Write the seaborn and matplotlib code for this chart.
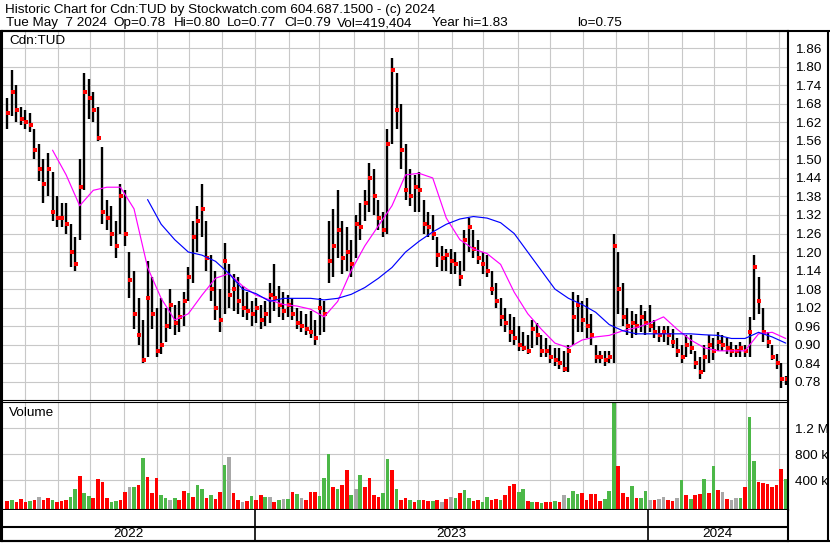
import numpy as np
import pandas as pd
import matplotlib
matplotlib.use("Agg")
import matplotlib.pyplot as plt
from matplotlib.lines import Line2D
import seaborn as sns

# trading days covered by the chart
days = pd.bdate_range("2022-05-12", "2024-05-07")

# bars, one every 3rd trading day (oldest first)
hi = [1.70, 1.79, 1.74, 1.67, 1.66, 1.65, 1.60, 1.55, 1.50, 1.52,
      1.46, 1.38, 1.36, 1.36, 1.29, 1.25, 1.50, 1.78, 1.76, 1.72,
      1.67, 1.54, 1.37, 1.35, 1.30, 1.42, 1.40, 1.20, 1.14, 1.05,
      0.98, 1.17, 1.12, 1.02, 1.05, 1.02, 1.08, 1.03, 1.04, 1.07,
      1.15, 1.30, 1.35, 1.42, 1.30, 1.19, 1.14, 1.08, 1.23, 1.16,
      1.13, 1.12, 1.09, 1.07, 1.04, 1.05, 1.03, 1.04, 1.10, 1.16,
      1.09, 1.07, 1.06, 1.05, 1.02, 1.01, 1.00, 1.01, 0.98, 1.05,
      1.04, 1.30, 1.34, 1.40, 1.30, 1.28, 1.24, 1.32, 1.36, 1.40,
      1.49, 1.47, 1.37, 1.33, 1.60, 1.83, 1.78, 1.68, 1.55, 1.47,
      1.45, 1.46, 1.37, 1.33, 1.32, 1.25, 1.22, 1.21, 1.21, 1.20,
      1.17, 1.27, 1.31, 1.27, 1.24, 1.20, 1.19, 1.14, 1.10, 1.05,
      1.02, 1.00, 0.99, 0.96, 0.94, 0.93, 0.98, 0.97, 0.93, 0.92,
      0.90, 0.89, 0.89, 0.88, 0.90, 1.07, 1.06, 1.04, 1.05, 1.00,
      0.90, 0.88, 0.88, 0.88, 1.26, 1.20, 1.10, 1.02, 1.01, 1.00,
      1.03, 1.01, 1.03, 0.98, 0.96, 0.96, 0.96, 0.95, 0.92, 0.90,
      0.93, 0.93, 0.88, 0.86, 0.90, 0.93, 0.92, 0.94, 0.93, 0.92,
      0.91, 0.90, 0.91, 0.90, 0.99, 1.19, 1.12, 1.02, 0.94, 0.90,
      0.87, 0.84, 0.80]
lo = [1.60, 1.64, 1.62, 1.61, 1.60, 1.59, 1.50, 1.43, 1.36, 1.38,
      1.30, 1.28, 1.28, 1.26, 1.15, 1.14, 1.24, 1.40, 1.63, 1.62,
      1.56, 1.29, 1.27, 1.22, 1.18, 1.26, 1.22, 1.05, 0.95, 0.90,
      0.84, 0.86, 0.95, 0.86, 0.87, 0.91, 0.95, 0.93, 0.94, 0.96,
      1.04, 1.10, 1.20, 1.25, 1.14, 1.04, 0.98, 0.94, 1.00, 1.02,
      1.01, 1.00, 0.99, 0.98, 0.96, 0.97, 0.95, 0.96, 0.97, 1.01,
      0.99, 0.98, 0.99, 0.98, 0.95, 0.94, 0.93, 0.92, 0.90, 0.93,
      0.94, 1.10, 1.12, 1.18, 1.13, 1.14, 1.12, 1.18, 1.24, 1.30,
      1.33, 1.32, 1.27, 1.25, 1.26, 1.55, 1.60, 1.47, 1.37, 1.35,
      1.33, 1.33, 1.26, 1.25, 1.24, 1.15, 1.14, 1.14, 1.13, 1.13,
      1.09, 1.14, 1.20, 1.18, 1.16, 1.13, 1.12, 1.06, 1.02, 0.96,
      0.94, 0.91, 0.90, 0.88, 0.88, 0.87, 0.89, 0.90, 0.86, 0.86,
      0.84, 0.83, 0.82, 0.81, 0.81, 0.90, 0.94, 0.94, 0.92, 0.90,
      0.84, 0.84, 0.83, 0.84, 0.84, 1.00, 0.96, 0.93, 0.92, 0.93,
      0.94, 0.93, 0.94, 0.92, 0.91, 0.91, 0.90, 0.89, 0.86, 0.84,
      0.86, 0.87, 0.82, 0.79, 0.81, 0.84, 0.85, 0.88, 0.88, 0.87,
      0.86, 0.86, 0.86, 0.86, 0.86, 0.98, 1.00, 0.91, 0.89, 0.85,
      0.82, 0.76, 0.77]
cl = [1.65, 1.72, 1.66, 1.63, 1.62, 1.61, 1.53, 1.47, 1.42, 1.47,
      1.33, 1.31, 1.31, 1.29, 1.20, 1.16, 1.41, 1.72, 1.70, 1.66,
      1.57, 1.33, 1.31, 1.26, 1.22, 1.38, 1.26, 1.11, 1.00, 0.93,
      0.85, 1.05, 1.00, 0.88, 0.90, 0.96, 1.03, 0.97, 0.99, 1.04,
      1.12, 1.25, 1.30, 1.34, 1.18, 1.08, 1.02, 0.98, 1.17, 1.06,
      1.08, 1.04, 1.02, 1.01, 1.00, 1.02, 0.98, 1.00, 1.06, 1.05,
      1.03, 1.01, 1.03, 1.00, 0.97, 0.96, 0.95, 0.94, 0.92, 1.02,
      1.00, 1.17, 1.22, 1.27, 1.18, 1.20, 1.16, 1.29, 1.28, 1.36,
      1.44, 1.38, 1.31, 1.27, 1.55, 1.79, 1.66, 1.53, 1.40, 1.38,
      1.41, 1.40, 1.29, 1.28, 1.26, 1.19, 1.18, 1.19, 1.17, 1.16,
      1.12, 1.24, 1.28, 1.21, 1.18, 1.16, 1.14, 1.08, 1.04, 0.99,
      0.97, 0.94, 0.92, 0.90, 0.89, 0.88, 0.95, 0.93, 0.88, 0.88,
      0.86, 0.85, 0.84, 0.82, 0.88, 0.99, 1.03, 0.98, 0.96, 0.93,
      0.86, 0.86, 0.85, 0.86, 1.22, 1.08, 0.99, 0.96, 0.97, 0.96,
      0.99, 0.97, 0.96, 0.94, 0.93, 0.94, 0.93, 0.91, 0.88, 0.86,
      0.90, 0.89, 0.84, 0.81, 0.86, 0.90, 0.88, 0.91, 0.90, 0.89,
      0.88, 0.88, 0.89, 0.88, 0.94, 1.15, 1.04, 0.94, 0.91, 0.86,
      0.84, 0.79, 0.79]
# volume in thousands, same sampling
vol = [80, 90, 70, 110, 70, 80, 90, 150, 100, 120,
       90, 70, 80, 90, 150, 260, 460, 200, 160, 130,
       420, 380, 120, 70, 80, 100, 220, 300, 300, 330,
       740, 450, 200, 430, 170, 120, 100, 120, 90, 230,
       200, 140, 330, 260, 120, 170, 110, 220, 640, 760,
       200, 90, 70, 80, 160, 100, 180, 150, 150, 60,
       100, 110, 110, 220, 190, 130, 100, 220, 220, 160,
       440, 800, 300, 270, 330, 560, 180, 260, 480, 300,
       440, 170, 150, 200, 730, 560, 260, 100, 120, 90,
       70, 100, 90, 80, 80, 100, 70, 110, 150, 120,
       200, 250, 130, 80, 100, 60, 150, 100, 110, 90,
       180, 320, 340, 220, 270, 80, 70, 60, 50, 70,
       60, 80, 60, 170, 120, 240, 190, 200, 90, 190,
       190, 80, 110, 240, 1600, 620, 200, 150, 320, 120,
       130, 240, 90, 100, 110, 150, 90, 80, 130, 400,
       180, 110, 180, 190, 420, 200, 620, 250, 220, 110,
       90, 130, 120, 300, 1380, 700, 370, 360, 340, 300,
       330, 570, 420]
# g = up day, r = down day, a = unchanged
vol_dir = ("rgrrrgrarr" "grrrggrggr" "rrrggrragr" "grrrggagrr"
           "grggrgrrga" "rrargrrgar" "gagrgarrrg" "ggrgrrgagr"
           "rrrggrgrrg" "rgrrgrarag" "rggrrggrrg" "rrrggrgrgr"
           "rgragggrrr" "rrgggrrrgr" "ggaraarrag" "rgrrgrgrar"
           "aagrggrrrr" "rrg")

# moving averages, every 9th trading day
ma_short = [1.53, 1.45, 1.35, 1.40, 1.41, 1.41, 1.34, 1.15, 1.05, 0.98,
            1.00, 1.06, 1.115, 1.13, 1.09, 1.06, 1.045, 1.03, 1.025, 1.015,
            0.99, 1.04, 1.14, 1.22, 1.285, 1.35, 1.45, 1.455, 1.44, 1.31,
            1.24, 1.21, 1.195, 1.16, 1.07, 1.00, 0.95, 0.905, 0.89, 0.915,
            0.925, 0.93, 0.945, 0.955, 0.97, 0.99, 0.95, 0.915, 0.89, 0.88,
            0.88, 0.88, 0.935, 0.94, 0.92]
ma_long = [1.37, 1.29, 1.24, 1.20, 1.19, 1.17, 1.13, 1.08, 1.065, 1.04,
           1.05, 1.05, 1.05, 1.045, 1.05, 1.063, 1.085, 1.115, 1.15, 1.20,
           1.235, 1.265, 1.29, 1.307, 1.315, 1.31, 1.295, 1.26, 1.20, 1.14,
           1.08, 1.05, 1.03, 1.005, 0.965, 0.945, 0.935, 0.935, 0.935, 0.935,
           0.935, 0.932, 0.93, 0.92, 0.92, 0.94, 0.925, 0.905]

price_ticks = np.round(np.arange(0.78, 1.861, 0.06), 2)
vol_ticks = [400000, 800000, 1200000]
vol_tick_labels = ["400 k", "800 k", "1.2 M"]
header1 = "Historic Chart for Cdn:TUD by Stockwatch.com 604.687.1500 - (c) 2024"
header2 = ["Tue May  7 2024", "Op=0.78", "Hi=0.80", "Lo=0.77",
           "Cl=0.79", "Vol=419,404", "Year hi=1.83", "lo=0.75"]
header2_x = [6, 113, 174, 227, 284, 337, 432, 577]  # pixel starts
symbol = "Cdn:TUD"

sns.set_theme(style="white")
plt.rcParams["font.family"] = ["Liberation Sans", "DejaVu Sans"]
FS = 9.7

# positions on a trading-day axis
n = len(days)
pos = (n - 1) - 3 * np.arange(len(hi))[::-1]
ma_pos = pos[::-1][::3][::-1]
pos_short = ma_pos[-len(ma_short):]
pos_long = ma_pos[-len(ma_long):]
months = days.to_period("M")
month_starts = np.flatnonzero(months[1:] != months[:-1]) + 1
years = days.year
year_starts = np.flatnonzero(years[1:] != years[:-1]) + 1
xlim = (-1.5, n + 0.5)

W, H = 830, 543
fig = plt.figure(figsize=(W / 100, H / 100), dpi=100)


def box(x0, y0, x1, y1):
    return [x0 / W, 1 - y1 / H, (x1 - x0) / W, (y1 - y0) / H]


ax = fig.add_axes(box(2, 31, 788, 400))
axv = fig.add_axes(box(2, 402, 788, 510))
axd = fig.add_axes(box(2, 510, 788, 541))

grid_c = "#c8c8c8"
for a in (ax, axv):
    a.set_xlim(*xlim)
    a.set_xticks(month_starts - 0.5)
    a.set_xticklabels([])
    a.yaxis.tick_right()
    a.tick_params(length=0, pad=5, labelsize=FS, colors="black")
    a.grid(True, color=grid_c, linewidth=0.8)
    a.set_axisbelow(True)
    for s in a.spines.values():
        s.set_color("black")

# price panel
ax.set_ylim(0.7207, 1.916)
ax.set_yticks(price_ticks)
ax.set_yticklabels([f"{t:.2f}" for t in price_ticks])
ax.vlines(pos, lo, hi, color="black", linewidth=1.7)
ax.plot(pos + 0.6, cl, "s", ms=2.3, mew=0, color="red")
sns.lineplot(x=pos_short, y=ma_short, ax=ax, color="#ff00ff",
             linewidth=0.85, estimator=None, sort=False, legend=False)
sns.lineplot(x=pos_long, y=ma_long, ax=ax, color="#0000ff",
             linewidth=0.85, estimator=None, sort=False, legend=False)
ax.set_xlabel("")
ax.set_ylabel("")
ax.spines["top"].set_linewidth(1.5)
ax.spines["left"].set_linewidth(1.5)
ax.spines["right"].set_linewidth(1.5)
ax.spines["bottom"].set_linewidth(0.8)

# volume panel
colors = {"g": "#4cb848", "r": "#ff0000", "a": "#a8a8a8"}
vol_floor = -57000
axv.set_ylim(vol_floor, 1.605e6)
axv.set_yticks(vol_ticks)
axv.set_yticklabels(vol_tick_labels)
axv.bar(pos, np.array(vol) * 1000 - vol_floor, bottom=vol_floor, width=2.4,
        color=[colors[c] for c in vol_dir], linewidth=0)
axv.spines["top"].set_linewidth(0.8)
axv.spines["left"].set_linewidth(1.5)
axv.spines["right"].set_linewidth(1.5)
axv.spines["bottom"].set_linewidth(1.5)

# date strip
axd.set_xlim(*xlim)
axd.set_ylim(0, 1)
axd.set_xticks([])
axd.set_yticks([])
for s in axd.spines.values():
    s.set_color("black")
    s.set_linewidth(1.5)
axd.spines["top"].set_visible(False)
axd.axhline(0.45, color="black", linewidth=1.5)
bounds = [xlim[0]] + list(year_starts - 0.5) + [xlim[1]]
axd.vlines(year_starts - 0.5, 0, 1, color="black", linewidth=1.2)
for i in range(len(bounds) - 1):
    yr = years[0] + i
    axd.text((bounds[i] + bounds[i + 1]) / 2, 0.22, str(yr), ha="center",
             va="center", fontsize=FS, color="black")

# texts and outer frame
fig.text(5 / W, 1 - 10.5 / H, header1, fontsize=FS, va="center", color="black")
for txt, x in zip(header2, header2_x):
    fig.text(x / W, 1 - 23 / H, txt, fontsize=FS, va="center", color="black")
fig.text(9 / W, 1 - 41 / H, symbol, fontsize=FS, va="center", color="black")
fig.text(9 / W, 1 - 413 / H, "Volume", fontsize=FS, va="center", color="black")


def hline(y, x0, x1, lw):
    fig.add_artist(Line2D([x0 / W, x1 / W], [1 - y / H, 1 - y / H],
                          color="black", linewidth=lw))


def vline(x, y0, y1, lw):
    fig.add_artist(Line2D([x / W, x / W], [1 - y0 / H, 1 - y1 / H],
                          color="black", linewidth=lw))


hline(31, 0, W, 1.5)
hline(541, 0, W, 1.5)
vline(828, 31, 541, 1.5)
vline(1, 31, 541, 1.5)

fig.savefig("out.png", dpi=100)
